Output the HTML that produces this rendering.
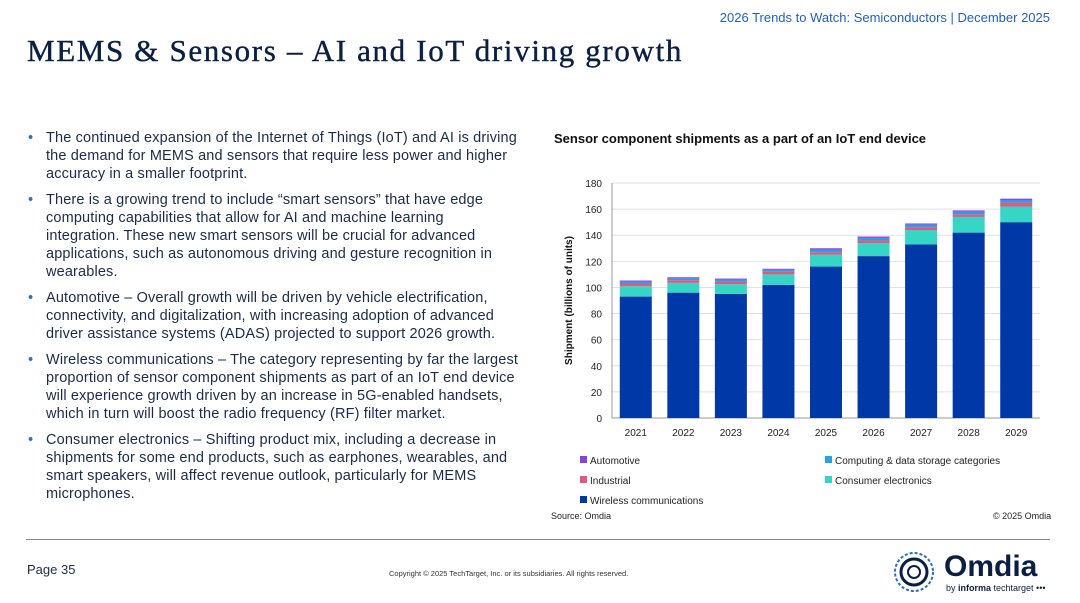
<!DOCTYPE html>
<html><head><meta charset="utf-8"><style>
body{margin:0;width:1080px;height:603px;background:#fff;font-family:"Liberation Sans",sans-serif;position:relative;overflow:hidden;color:#0b1f44}
.abs{position:absolute}
ul{margin:0;padding:0;list-style:none}
li{position:relative;padding-left:20px;margin-bottom:8px;font-size:14.5px;letter-spacing:0.15px;line-height:18px;color:#1a2b4c}
li:before{content:"•";position:absolute;left:2px;color:#2c6fcf}
</style></head><body>
<div class="abs" style="right:30px;top:10px;font-size:13px;color:#1f5fbf">2026 Trends to Watch: Semiconductors | December 2025</div>
<div class="abs" style="left:27px;top:33px;font-size:31px;letter-spacing:1.65px;font-family:'Liberation Serif',serif;color:#0b1f44;-webkit-text-stroke:0.4px #0b1f44">MEMS &amp; Sensors – AI and IoT driving growth</div>
<ul class="abs" style="left:26px;top:129px;width:494px">
<li>The continued expansion of the Internet of Things (IoT) and AI is driving the demand for MEMS and sensors that require less power and higher accuracy in a smaller footprint.</li>
<li>There is a growing trend to include “smart sensors” that have edge computing capabilities that allow for AI and machine learning integration. These new smart sensors will be crucial for advanced applications, such as autonomous driving and gesture recognition in wearables.</li>
<li>Automotive – Overall growth will be driven by vehicle electrification, connectivity, and digitalization, with increasing adoption of advanced driver assistance systems (ADAS) projected to support 2026 growth.</li>
<li>Wireless communications – The category representing by far the largest proportion of sensor component shipments as part of an IoT end device will experience growth driven by an increase in 5G-enabled handsets, which in turn will boost the radio frequency (RF) filter market.</li>
<li>Consumer electronics – Shifting product mix, including a decrease in shipments for some end products, such as earphones, wearables, and smart speakers, will affect revenue outlook, particularly for MEMS microphones.</li>
</ul>
<div class="abs" style="left:554px;top:131px;font-size:13px;font-weight:bold;color:#111">Sensor component shipments as a part of an IoT end device</div>
<svg class="abs" style="left:0;top:0" width="1080" height="603" id="chart"></svg>
<div class="abs" style="left:551px;top:511px;font-size:9px;color:#222">Source: Omdia</div>
<div class="abs" style="left:993px;top:511px;font-size:9px;color:#222">© 2025 Omdia</div>
<div class="abs" style="left:26px;top:539px;width:1024px;height:1px;background:#888"></div>
<div class="abs" style="left:27px;top:562px;font-size:13px;color:#1a2b4c">Page 35</div>
<div class="abs" style="left:389px;top:569px;font-size:7.5px;color:#333">Copyright © 2025 TechTarget, Inc. or its subsidiaries. All rights reserved.</div>
<svg class="abs" style="left:892px;top:550px" width="48" height="44"><circle cx="22" cy="22" r="19" fill="none" stroke="#2a6fc0" stroke-width="2" stroke-dasharray="3 2"/><circle cx="22" cy="22" r="13" fill="none" stroke="#0b1f44" stroke-width="3"/><circle cx="22" cy="22" r="6" fill="none" stroke="#0b1f44" stroke-width="2"/></svg>
<div class="abs" style="left:944px;top:550px;font-size:30px;font-weight:bold;color:#0b1f44">Omdia</div>
<div class="abs" style="left:946px;top:583px;font-size:9px;color:#0b1f44">by <b>informa</b> techtarget •••</div>
<script>
const years=["2021","2022","2023","2024","2025","2026","2027","2028","2029"];
const wireless=[93,96,95,102,116,124,133,142,150];
const consumer=[8,7.5,7.5,8,9,10,11,12,12];
const industrial=[2,2,2,2,2,2,2,2,3];
const computing=[1.5,1.5,1.5,1.5,2,2,2,2,2];
const automotive=[0.8,0.8,0.8,0.8,1,1,1,1,1];
const yTicks=[0,20,40,60,80,100,120,140,160,180];
const series=[[wireless,"#0038a8"],[consumer,"#36d6c6"],[industrial,"#e5587b"],[computing,"#2a9fe6"],[automotive,"#8b3fe0"]];
const svg=document.getElementById('chart');const NS="http://www.w3.org/2000/svg";
const x0=612,x1=1040,y0=418,y1=183,ymax=180;
const Y=v=>y0-(v/ymax)*(y0-y1);
const slot=(x1-x0)/years.length;const X=i=>x0+slot*(i+0.5);const bw=32;
function el(t,a){const e=document.createElementNS(NS,t);for(const k in a)e.setAttribute(k,a[k]);svg.appendChild(e);return e;}
yTicks.forEach(t=>{
 const g=el('line',{x1:x0,x2:x1,y1:Y(t),y2:Y(t),stroke:t?"#e2e2e2":"#999","stroke-width":1});
 
 
 const l=el('text',{x:x0-10,y:Y(t)+4,"text-anchor":"end","font-size":10,fill:"#222"});l.textContent=t;
 
 
});
const ax=el('line',{x1:x0,x2:x0,y1:y1,y2:y0,stroke:"#999"});


const yt=el('text',{x:0,y:0,transform:`translate(572,${(y0+y1)/2}) rotate(-90)`,"text-anchor":"middle","font-size":10,"font-weight":"bold",fill:"#111"});yt.textContent="Shipment (billions of units)";


years.forEach((yr,i)=>{
 let acc=0;
 series.forEach(([arr,c])=>{
  const r=el('rect',{x:X(i)-bw/2,y:Y(acc+arr[i]),width:bw,height:Y(acc)-Y(acc+arr[i]),fill:c});
  
  
  acc+=arr[i];
 });
 const l=el('text',{x:X(i),y:y0+18,"text-anchor":"middle","font-size":10,fill:"#222"});l.textContent=yr;
 
 
});
const legend=[["Automotive","#8b3fe0",580,464],["Computing & data storage categories","#2a9fe6",825,464],["Industrial","#e5587b",580,484],["Consumer electronics","#36d6c6",825,484],["Wireless communications","#0038a8",580,504]];
legend.forEach(([n,c,x,y])=>{
 const r=el('rect',{x:x,y:y-8,width:7,height:7,fill:c});
 
 
 const t=el('text',{x:x+10,y:y,"font-size":10,fill:"#222"});t.textContent=n;
 
 
});
</script>
</body></html>
